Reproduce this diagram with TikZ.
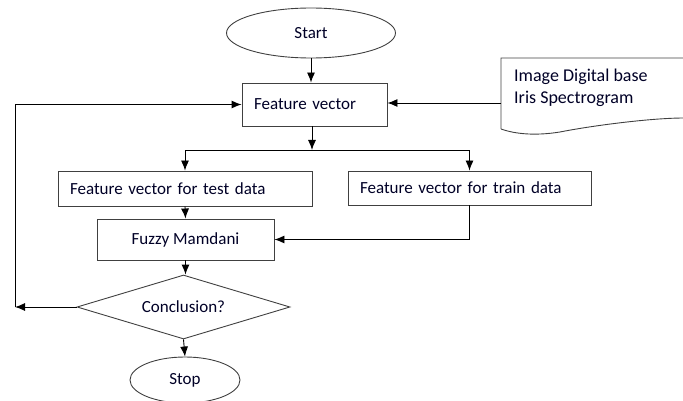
\documentclass[tikz,border=0pt]{standalone}
\usepackage{fontspec}
\setmainfont{Carlito}
\usetikzlibrary{shapes.geometric,arrows.meta}
\begin{document}
\begin{tikzpicture}[x=1pt,y=-1pt,
  every node/.style={font=\fontsize{17}{22}\selectfont, text=black!85!blue},
  shapeline/.style={draw=black!75, line width=0.9pt},
  box/.style={shapeline, rectangle, inner xsep=12pt, inner ysep=0pt},
  term/.style={shapeline, ellipse, inner sep=0pt},
  arr/.style={draw=black, line width=0.9pt, -{Latex[length=10pt,width=8pt]}},
  wire/.style={draw=black, line width=0.9pt}]
\useasboundingbox (0,0) rectangle (683,401);

% terminals
\node[term, minimum width=169pt, minimum height=50pt] (start) at (311,33) {Start};
\node[term, minimum width=110pt, minimum height=46pt] (stop) at (185,380) {Stop};

% processing boxes
\node[box, minimum width=145pt, minimum height=43pt, text width=121pt, align=left] (fv) at (314.5,104.5) {Feature vector};
\node[box, minimum width=254pt, minimum height=35pt, text width=230pt, align=left] (test) at (185,188.5) {Feature vector for test data};
\node[box, minimum width=243pt, minimum height=34pt, text width=219pt, align=left] (train) at (469.5,188) {Feature vector for train data};
\node[box, minimum width=177pt, minimum height=41pt, inner xsep=0pt] (fuzzy) at (185.5,239.5) {Fuzzy Mamdani};

% decision
\node[shapeline, diamond, aspect=3.3, inner sep=0pt, minimum width=213pt, minimum height=64pt] (concl) at (183.5,307) {Conclusion?};

% input document
\draw[shapeline] (501,129) -- (501,58) -- (686,58) -- (686,118) -- (684,118)
  .. controls (650,118) and (590,126) .. (560,132)
  .. controls (535,136) and (515,134) .. (501,129);
\node[anchor=north west, inner sep=0pt, align=left, font=\fontsize{18}{22}\selectfont] (src) at (514,69) {Image Digital base\\Iris Spectrogram};
\coordinate (srcin) at (501,103);

% junctions
\coordinate (split) at (312,150);
\coordinate (loopc) at (15,307);

% connectors
\draw[arr] (start.south) -- (start.south |- fv.north);
\draw[arr] (srcin) -- (srcin -| fv.east);
\draw[arr] (fv.south -| split) -- (split);
\draw[arr] (split) -| (test.north);
\draw[arr] (split) -| (train.north);
\draw[arr] (test.south) -- (fuzzy.north);
\draw[arr] (train.south) |- (fuzzy.east);
\draw[arr] (fuzzy.south) -- (fuzzy.south |- concl.north);
\draw[arr] (concl.south) -- (stop.north);
\draw[arr] (concl.west) -- (loopc);
\draw[arr] (loopc) |- (fv.west);
\end{tikzpicture}
\end{document}
